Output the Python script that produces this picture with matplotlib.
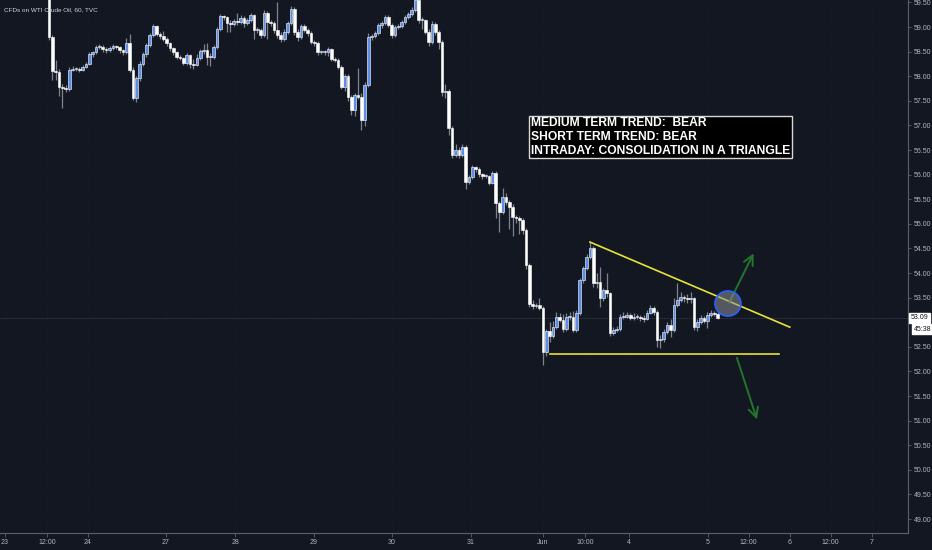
import matplotlib
matplotlib.use("Agg")
import matplotlib.pyplot as plt
import matplotlib.transforms as mtransforms
from matplotlib import font_manager
from matplotlib.patches import Ellipse
import numpy as np

# hourly WTI closes (USD), bar by bar
closes = [58.80, 58.11, 58.09, 57.78, 57.76, 57.74, 58.13, 58.15, 58.15, 58.13,
          58.19, 58.25, 58.45, 58.49, 58.59, 58.59, 58.55, 58.53, 58.57, 58.61,
          58.59, 58.53, 58.49, 58.67, 58.13, 57.56, 57.96, 58.25, 58.45, 58.63,
          58.84, 59.02, 58.86, 58.82, 58.76, 58.67, 58.57, 58.49, 58.39, 58.37,
          58.27, 58.43, 58.25, 58.23, 58.37, 58.51, 58.53, 58.39, 58.39, 58.59,
          58.96, 59.22, 59.20, 59.08, 59.06, 59.12, 59.10, 59.18, 59.08, 59.14,
          59.24, 58.94, 58.94, 58.84, 59.29, 59.10, 59.08, 58.94, 58.84, 58.76,
          58.90, 59.08, 59.37, 58.90, 58.80, 59.02, 58.94, 58.88, 58.70, 58.67,
          58.49, 58.49, 58.49, 58.55, 58.35, 58.33, 58.19, 57.78, 58.00, 57.58,
          57.31, 57.62, 57.58, 57.11, 57.82, 58.80, 58.82, 58.88, 59.04, 59.08,
          59.20, 59.04, 58.84, 59.00, 59.02, 59.10, 59.20, 59.26, 59.35, 59.55,
          59.14, 59.14, 58.90, 58.70, 59.06, 58.90, 58.70, 57.68, 57.70, 56.95,
          56.40, 56.50, 56.40, 56.56, 55.85, 55.95, 56.15, 56.11, 56.01, 55.97,
          55.97, 55.83, 56.03, 55.42, 55.24, 55.54, 55.44, 55.34, 55.14, 55.12,
          55.08, 54.87, 54.16, 53.37, 53.33, 53.35, 53.29, 52.39, 52.82, 52.72,
          52.90, 53.11, 53.05, 52.86, 53.11, 53.11, 52.84, 53.19, 53.86, 54.10,
          54.33, 54.51, 53.80, 53.82, 53.49, 53.65, 53.59, 52.78, 52.84, 52.86,
          53.11, 53.11, 53.15, 53.09, 53.11, 53.11, 53.09, 53.07, 53.19, 53.29,
          53.21, 52.64, 52.66, 52.80, 52.94, 52.84, 53.35, 53.45, 53.51, 53.49,
          53.47, 53.49, 52.90, 53.00, 53.09, 53.02, 53.15, 53.19, 53.17, 53.09]

highs = [59.75, 58.84, 58.33, 58.14, 57.84, 57.82, 58.19, 58.20, 58.19, 58.18,
         58.22, 58.29, 58.50, 58.52, 58.63, 58.65, 58.64, 58.60, 58.62, 58.66,
         58.64, 58.62, 58.56, 58.77, 58.85, 58.18, 58.00, 58.30, 58.50, 58.68,
         58.88, 59.06, 59.05, 58.90, 58.92, 58.80, 58.70, 58.60, 58.52, 58.43,
         58.40, 58.47, 58.46, 58.34, 58.45, 58.56, 58.66, 58.68, 58.47, 58.63,
         59.00, 59.26, 59.25, 59.23, 59.14, 59.16, 59.28, 59.24, 59.22, 59.18,
         59.28, 59.27, 59.00, 58.98, 59.35, 59.32, 59.14, 59.12, 59.50, 58.90,
         58.95, 59.12, 59.42, 59.40, 58.95, 59.07, 59.06, 58.98, 58.92, 58.74,
         58.72, 58.53, 58.53, 58.60, 58.58, 58.39, 58.37, 58.22, 58.05, 58.04,
         57.62, 57.66, 58.16, 57.65, 57.88, 58.88, 58.86, 58.92, 59.08, 59.12,
         59.24, 59.24, 59.08, 59.04, 59.06, 59.14, 59.24, 59.30, 59.40, 59.70,
         59.60, 59.20, 59.17, 58.95, 59.12, 59.10, 58.94, 58.74, 57.85, 57.74,
         56.99, 56.62, 56.56, 56.62, 56.60, 56.00, 56.20, 56.18, 56.15, 56.04,
         56.01, 56.00, 56.08, 56.08, 55.47, 55.73, 55.62, 55.48, 55.40, 55.18,
         55.16, 55.12, 54.92, 54.20, 53.45, 53.40, 53.50, 53.33, 52.86, 53.00,
         53.02, 53.20, 53.18, 53.16, 53.18, 53.20, 53.22, 53.24, 53.90, 54.14,
         54.38, 54.63, 54.55, 54.00, 54.12, 53.70, 54.00, 53.62, 52.90, 52.92,
         53.16, 53.20, 53.20, 53.18, 53.18, 53.16, 53.15, 53.14, 53.24, 53.34,
         53.32, 53.25, 52.74, 52.86, 53.00, 53.06, 53.50, 53.80, 53.62, 53.56,
         53.58, 53.62, 53.52, 53.06, 53.14, 53.12, 53.20, 53.24, 53.22, 53.20]

lows = [58.74, 57.92, 57.92, 57.60, 57.35, 57.68, 57.70, 58.10, 58.11, 58.08,
        58.10, 58.16, 58.22, 58.40, 58.46, 58.55, 58.50, 58.48, 58.50, 58.54,
        58.55, 58.47, 58.44, 58.45, 58.08, 57.52, 57.48, 57.90, 58.20, 58.40,
        58.60, 58.80, 58.82, 58.76, 58.72, 58.62, 58.52, 58.44, 58.34, 58.32,
        58.22, 58.22, 58.16, 58.14, 58.20, 58.32, 58.46, 58.22, 58.20, 58.34,
        58.55, 58.92, 59.15, 58.90, 58.90, 59.02, 59.05, 59.06, 59.00, 59.04,
        59.10, 58.75, 58.88, 58.78, 58.80, 58.76, 59.02, 58.88, 58.78, 58.70,
        58.72, 58.86, 59.05, 58.84, 58.72, 58.76, 58.90, 58.82, 58.66, 58.62,
        58.44, 58.45, 58.44, 58.42, 58.30, 58.28, 58.14, 57.74, 57.70, 57.50,
        57.22, 57.20, 57.54, 56.91, 56.99, 57.78, 58.74, 58.78, 58.84, 58.98,
        59.04, 59.00, 58.78, 58.80, 58.96, 58.98, 59.06, 59.16, 59.22, 59.30,
        59.08, 58.95, 58.85, 58.62, 58.66, 58.84, 58.55, 57.60, 57.55, 56.80,
        56.34, 56.36, 56.34, 56.36, 55.70, 55.80, 55.92, 56.05, 55.96, 55.92,
        55.93, 55.78, 55.80, 55.12, 54.83, 55.20, 55.38, 54.90, 54.76, 55.02,
        54.80, 54.80, 54.08, 53.30, 53.26, 53.28, 53.24, 52.13, 52.32, 52.60,
        52.68, 52.86, 53.00, 52.80, 52.82, 53.04, 52.80, 52.80, 53.14, 53.80,
        54.06, 54.28, 53.72, 53.70, 53.30, 53.44, 53.52, 52.72, 52.74, 52.80,
        52.82, 53.06, 53.08, 53.04, 53.05, 53.06, 53.02, 53.00, 53.04, 53.16,
        53.14, 52.50, 52.48, 52.60, 52.76, 52.70, 52.80, 53.30, 53.42, 53.42,
        53.40, 53.40, 52.84, 52.82, 52.96, 52.98, 52.88, 53.10, 53.12, 53.06]

first_open = 59.70
last_price = 53.09

# date labels of the time axis, placed at bar positions
tick_pos = [-13.1, -0.6, 11.6, 34.8, 55.4, 78.9, 102.1, 125.6, 147.0,
            159.5, 172.6, 196.1, 208.3, 220.5, 232.7, 244.9]
tick_lbl = ["23", "12:00", "24", "27", "28", "29", "30", "31", "Jun",
            "10:00", "4", "5", "12:00", "6", "12:00", "7"]
price_ticks = np.arange(49.0, 59.51, 0.5)

# triangle drawn on the chart (bar index, price)
upper_x = [161.0, 220.5]
upper_y = [54.63, 52.90]
lower_x = [149.1, 217.3]
lower_y = [52.35, 52.35]

names = {f.name for f in font_manager.fontManager.ttflist}
narrow = "Liberation Sans Narrow" if "Liberation Sans Narrow" in names else "Liberation Sans"

bg = "#131722"
axis_col = "#5d606b"
txt_col = "#b2b5be"

# candles are gapless, open = previous close
opens = [first_open] + closes[:-1]
o = np.array(opens)
c = np.array(closes)
h = np.array(highs)
l = np.array(lows)
idx = np.arange(len(c))
up = c >= o

fig = plt.figure(figsize=(9.32, 5.5), dpi=100, facecolor=bg)
ax = fig.add_axes([0, 17 / 550, 908 / 932, 533 / 550])
ax.set_facecolor(bg)

for p in price_ticks:
    ax.axhline(p, color="#161a25", lw=0.6, zorder=0)
for t in tick_pos:
    ax.axvline(t, color="#161a25", lw=0.6, zorder=0)

# current price line
ax.axhline(last_price, color="#434651", lw=0.6, ls=(0, (1, 1)), zorder=1)

ax.vlines(idx, l, h, color="#80838d", lw=0.9, zorder=2)
body = np.maximum(np.abs(c - o), 0.025)
bottom = np.minimum(o, c)
ax.bar(idx[up], body[up], bottom=bottom[up], width=0.8,
       color="#5b8ee8", edgecolor="white", linewidth=0.4, zorder=3)
ax.bar(idx[~up], body[~up], bottom=bottom[~up], width=0.8,
       color="white", edgecolor="white", linewidth=0.4, zorder=3)

# triangle
ax.plot(upper_x, upper_y, color="#e8e434", lw=1.2, zorder=4)
ax.plot(lower_x, lower_y, color="#e8e434", lw=1.2, zorder=4)

# breakout arrows
arrow_kw = dict(arrowstyle="->,head_length=0.7,head_width=0.35", color="#23752c", lw=1.4)
ax.annotate("", xy=(210.1, 54.45), xytext=(202.1, 53.35), arrowprops=arrow_kw, zorder=5)
ax.annotate("", xy=(211.0, 50.97), xytext=(204.5, 52.33), arrowprops=arrow_kw, zorder=5)

ax.add_patch(Ellipse((202.1, 53.38), width=7.7, height=0.51, facecolor="#8c8f9a",
                     alpha=0.55, edgecolor="none", zorder=6))
ax.add_patch(Ellipse((202.1, 53.38), width=7.7, height=0.51, facecolor="none",
                     edgecolor="#2962ff", lw=1.2, zorder=6))

ax.set_xlim(-14.6, 255.7)
ax.set_ylim(48.716, 59.549)

ax.yaxis.tick_right()
ax.set_yticks(price_ticks)
ax.set_yticklabels(["%.2f" % p for p in price_ticks])
ax.set_xticks(tick_pos)
ax.set_xticklabels(tick_lbl)
ax.tick_params(axis="both", colors=axis_col, labelcolor=txt_col, length=3, width=0.6,
               labelsize=5, pad=1.5)
ax.tick_params(axis="y", length=2.5, pad=1.5)
for lab in ax.get_xticklabels() + ax.get_yticklabels():
    lab.set_family(narrow)

for side in ["top", "left"]:
    ax.spines[side].set_visible(False)
for side in ["right", "bottom"]:
    ax.spines[side].set_color(axis_col)
    ax.spines[side].set_linewidth(0.8)

# price tag and countdown on the price scale
tr = mtransforms.blended_transform_factory(ax.transAxes, ax.transData)
ax.text(1.003, last_price, "53.09", transform=tr, ha="left", va="center", fontsize=5,
        family=narrow, color="#131722",
        bbox=dict(boxstyle="square,pad=0.2", fc="white", ec="white"), zorder=10, clip_on=False)
ax.text(1.006, last_price - 0.235, "45:38", transform=tr, ha="left", va="center", fontsize=5,
        family=narrow, color="#131722",
        bbox=dict(boxstyle="square,pad=0.2", fc="white", ec="white"), zorder=10, clip_on=False)

fig.text(4 / 932, 1 - 10 / 550, "CFDs on WTI Crude Oil, 60, TVC", fontsize=4.6,
         family=narrow, color="#d1d4dc", ha="left", va="center")

# comment box
fig.text(531 / 932, 1 - 137 / 550,
         "MEDIUM TERM TREND:  BEAR\nSHORT TERM TREND: BEAR\nINTRADAY: CONSOLIDATION IN A TRIANGLE",
         fontsize=8.7, family=narrow, weight="bold", color="white", ha="left", va="center",
         linespacing=1.18,
         bbox=dict(boxstyle="square,pad=0.15", fc="black", ec="#d8d8d8", lw=1.0))

fig.savefig("out.png", dpi=100, facecolor=bg)
